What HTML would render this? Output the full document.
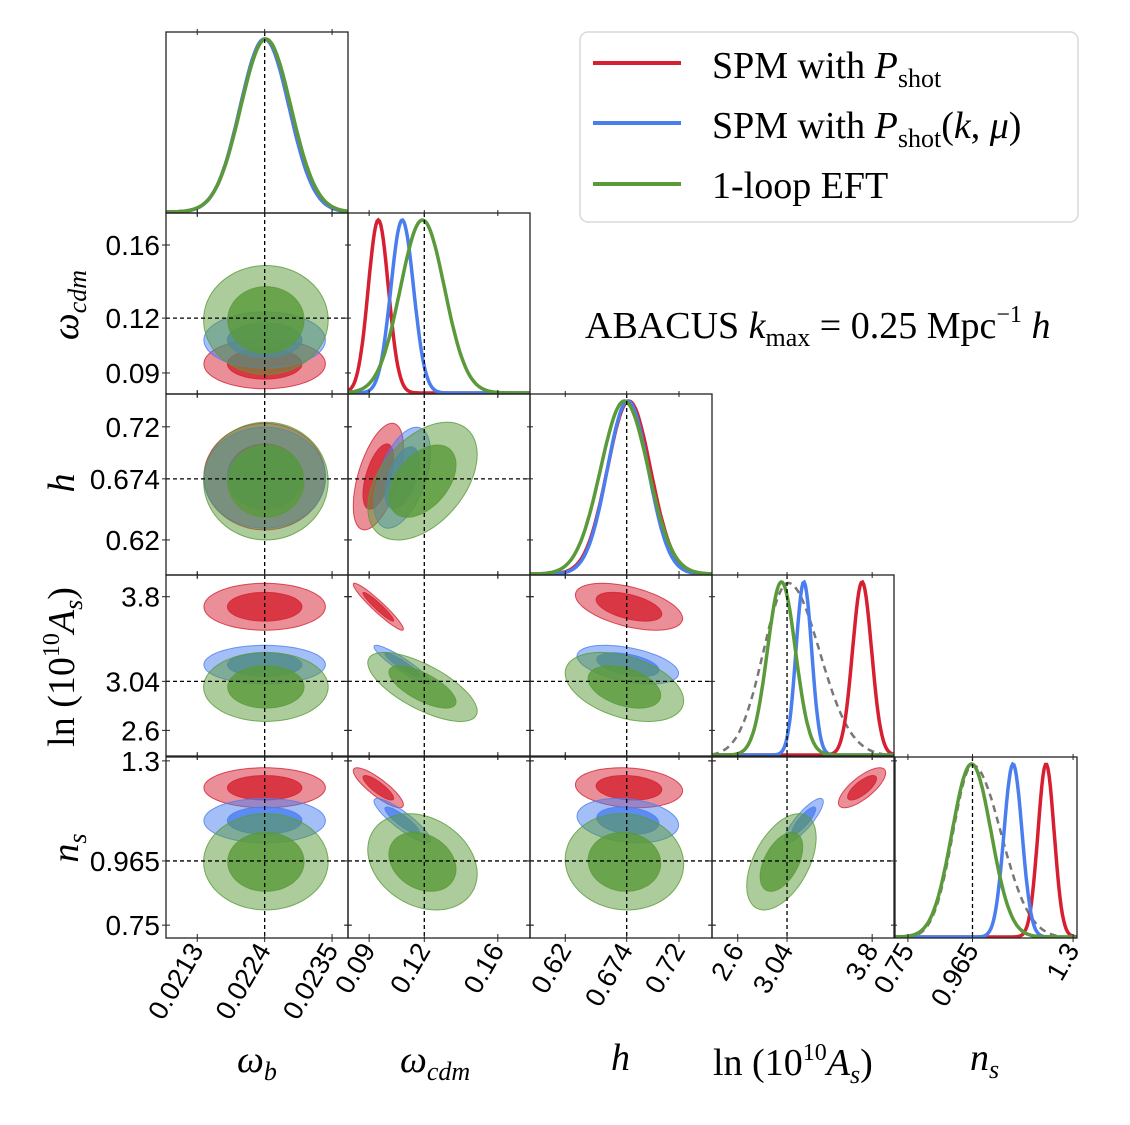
<!DOCTYPE html>
<html><head><meta charset="utf-8"><style>
body{margin:0;background:#fff}
svg text{font-family:"Liberation Sans",sans-serif}
.serif{font-family:"Liberation Serif",serif}
</style></head><body>
<svg id="chart" width="1130" height="1120" viewBox="0 0 1130 1120" xmlns="http://www.w3.org/2000/svg">
<rect width="1130" height="1120" fill="#fff"/>
<g id="panels"></g>
<g id="labels"></g>
<g>
<rect x="580" y="32" width="498" height="190" rx="8" fill="#fff" stroke="#d8d8d8" stroke-width="1.5"/>
<line x1="593" y1="63" x2="681" y2="63" stroke="#d62031" stroke-width="4"/>
<line x1="593" y1="123" x2="681" y2="123" stroke="#4a7eef" stroke-width="4"/>
<line x1="593" y1="184" x2="681" y2="184" stroke="#5a9a3a" stroke-width="4"/>
<text class="serif" x="712" y="78" font-size="38">SPM with <tspan font-style="italic">P</tspan><tspan font-size="26" dy="9">shot</tspan></text>
<text class="serif" x="712" y="138" font-size="38">SPM with <tspan font-style="italic">P</tspan><tspan font-size="26" dy="9">shot</tspan><tspan dy="-9">(</tspan><tspan font-style="italic">k</tspan>, <tspan font-style="italic">μ</tspan>)</text>
<text class="serif" x="712" y="198" font-size="38">1-loop EFT</text>
</g>
<text class="serif" x="585" y="338" font-size="38">ABACUS <tspan font-style="italic">k</tspan><tspan font-size="26" dy="8">max</tspan><tspan dy="-8"> = 0.25 Mpc</tspan><tspan font-size="24" dy="-16">−1</tspan><tspan dy="16" font-style="italic"> h</tspan></text>
</svg>
<script>
const paramNames=['omega-b','omega-cdm','h','ln-as','n-s'];
const truths=[0.0224,0.12,0.674,3.04,0.965];
const domLo=[0.02079,0.0785,0.589,2.37,0.707];
const domHi=[0.02376,0.1775,0.749,3.995,1.313];
const redMean=[0.0224,0.095,0.676,3.71,1.21];
const redSig=[0.0004,0.0055,0.019,0.085,0.027];
const blueMean=[0.0224,0.108,0.675,3.19,1.10];
const blueSig=[0.0004,0.0062,0.018,0.07,0.03];
const greenMean=[0.02242,0.119,0.672,2.99,0.962];
const greenSig=[0.00041,0.012,0.021,0.125,0.065];
const pairI=[0,0,0,0,1,1,1,2,2,3];
const pairJ=[1,2,3,4,2,3,4,3,4,4];
const redCorr=[0,0,0,0,0.55,-0.95,-0.85,-0.5,-0.15,0.75];
const blueCorr=[0,0,0,0,0.5,-0.92,-0.88,-0.45,-0.2,0.85];
const greenCorr=[0,0,0,0,0.45,-0.7,-0.25,-0.4,-0.05,0.5];
const priorParam=[3,4];
const priorMean=[3.05,0.965];
const priorSigL=[0.22,0.065];
const priorSigR=[0.28,0.095];
const tickVals=[[0.0213,0.0224,0.0235],[0.09,0.12,0.16],[0.62,0.674,0.72],[2.6,3.04,3.8],[0.75,0.965,1.3]];
const tickLabels=[['0.0213','0.0224','0.0235'],['0.09','0.12','0.16'],['0.62','0.674','0.72'],['2.6','3.04','3.8'],['0.75','0.965','1.3']];

const NS='http://www.w3.org/2000/svg';
const colX=[166,348,530,712,895], rowY=[32,213,394,575,757], W=182, H=181;
const models=[
 {name:'spm-pshot',color:'#d62031',mean:redMean,sig:redSig,corr:redCorr},
 {name:'spm-pshot-kmu',color:'#4a7eef',mean:blueMean,sig:blueSig,corr:blueCorr},
 {name:'eft',color:'#5a9a3a',mean:greenMean,sig:greenSig,corr:greenCorr}];
function sx(i,v){return colX[i]+(v-domLo[i])/(domHi[i]-domLo[i])*W;}
function sy(j,v){return rowY[j]+H-(v-domLo[j])/(domHi[j]-domLo[j])*H;}
function mk(tag,attrs,parent){const e=document.createElementNS(NS,tag);for(const k in attrs)e.setAttribute(k,attrs[k]);parent.appendChild(e);return e;}
const G=document.getElementById('panels');
const defs=mk('defs',{},G);
for(let r=0;r<5;r++)for(let c=0;c<=r;c++){
 const cp=mk('clipPath',{id:'cp'+r+'_'+c},defs);
 mk('rect',{x:colX[c],y:rowY[r],width:W,height:H},cp);
}
// 2D panels
for(let p=0;p<pairI.length;p++){
 const i=pairI[p], j=pairJ[p];
 const g=mk('g',{'clip-path':'url(#cp'+j+'_'+i+')'},G);
 
 
 models.forEach(m=>{
  [2.48,1.52].forEach((k,idx)=>{
   const rho=m.corr[p]; let d='';
   for(let t=0;t<=72;t++){
    const a=t/72*2*Math.PI;
    const vx=m.mean[i]+k*m.sig[i]*Math.cos(a);
    const vy=m.mean[j]+k*m.sig[j]*(rho*Math.cos(a)+Math.sqrt(1-rho*rho)*Math.sin(a));
    d+=(t?'L':'M')+sx(i,vx).toFixed(1)+','+sy(j,vy).toFixed(1);
   }
   const e=mk('path',{d:d+'Z',fill:m.color,'fill-opacity':idx?0.8:0.5,stroke:m.color,'stroke-width':1,'stroke-opacity':0.8},g);
   
   
  });
 });
 mk('line',{x1:sx(i,truths[i]),y1:rowY[j],x2:sx(i,truths[i]),y2:rowY[j]+H,stroke:'#000','stroke-width':1.3,'stroke-dasharray':'4,3'},g);
 mk('line',{x1:colX[i],y1:sy(j,truths[j]),x2:colX[i]+W,y2:sy(j,truths[j]),stroke:'#000','stroke-width':1.3,'stroke-dasharray':'4,3'},g);
}
// 1D panels
function gauss(v,m,sl,sr){const s=v<m?sl:sr;return Math.exp(-0.5*((v-m)/s)**2);}
for(let i=0;i<5;i++){
 const g=mk('g',{'clip-path':'url(#cp'+i+'_'+i+')'},G);
 
 
 const base=rowY[i]+H, amp=H-8;
 const pi=priorParam.indexOf(i);
 if(pi>=0){
  let d='';
  for(let t=0;t<=120;t++){const v=domLo[i]+(domHi[i]-domLo[i])*t/120;
   d+=(t?'L':'M')+sx(i,v).toFixed(1)+','+(base-amp*gauss(v,priorMean[pi],priorSigL[pi],priorSigR[pi])).toFixed(1);}
  const e=mk('path',{d:d,fill:'none',stroke:'#777','stroke-width':2.5,'stroke-dasharray':'7,5'},g);
  
  
 }
 models.forEach(m=>{
  let d='';
  for(let t=0;t<=150;t++){const v=domLo[i]+(domHi[i]-domLo[i])*t/150;
   d+=(t?'L':'M')+sx(i,v).toFixed(1)+','+(base-1-amp*gauss(v,m.mean[i],m.sig[i],m.sig[i])).toFixed(1);}
  const e=mk('path',{d:d,fill:'none',stroke:m.color,'stroke-width':3.5},g);
  
  
 });
 mk('line',{x1:sx(i,truths[i]),y1:rowY[i],x2:sx(i,truths[i]),y2:base,stroke:'#000','stroke-width':1.3,'stroke-dasharray':'4,3'},g);
}
// frames & ticks
for(let r=0;r<5;r++)for(let c=0;c<=r;c++){
 const f=mk('rect',{x:colX[c],y:rowY[r],width:W,height:H,fill:'none',stroke:'#222','stroke-width':1.3},G);
 
 
 tickVals[c].forEach(v=>{const x=sx(c,v);
  mk('line',{x1:x,y1:rowY[r]+H-4,x2:x,y2:rowY[r]+H+4,stroke:'#222','stroke-width':1},G);
  mk('line',{x1:x,y1:rowY[r]-3,x2:x,y2:rowY[r]+3,stroke:'#222','stroke-width':1},G);});
 if(r!==c)tickVals[r].forEach(v=>{const y=sy(r,v);
  mk('line',{x1:colX[c]-4,y1:y,x2:colX[c]+4,y2:y,stroke:'#222','stroke-width':1},G);
  mk('line',{x1:colX[c]+W-3,y1:y,x2:colX[c]+W+3,y2:y,stroke:'#222','stroke-width':1},G);});
}
const L=document.getElementById('labels');
for(let c=0;c<5;c++)tickVals[c].forEach((v,k)=>{
 const x=sx(c,v)+7, y=950;
 const t=mk('text',{x:x,y:y,'font-size':27,'text-anchor':'end',transform:'rotate(-60 '+x+' '+y+')'},L);
 t.textContent=tickLabels[c][k];
 
 
});
for(let r=1;r<5;r++)tickVals[r].forEach((v,k)=>{
 const t=mk('text',{x:160,y:sy(r,v)+10,'font-size':28,'text-anchor':'end'},L);
 t.textContent=tickLabels[r][k];
 
 
});
</script>
<svg width="0" height="0" style="position:absolute"></svg>
<script>
(function(){
const s=document.getElementById('chart');
const NS='http://www.w3.org/2000/svg';
const add=(html)=>{const g=document.createElementNS(NS,'g');g.innerHTML=html;s.appendChild(g);};
add(`
<text class="serif" x="237" y="1072" font-size="38" font-style="italic">ω<tspan font-size="26" dy="8">b</tspan></text>
<text class="serif" x="400" y="1072" font-size="38" font-style="italic">ω<tspan font-size="26" dy="8">cdm</tspan></text>
<text class="serif" x="611" y="1070" font-size="38" font-style="italic">h</text>
<text class="serif" x="713" y="1075" font-size="38">ln (10<tspan font-size="24" dy="-15">10</tspan><tspan dy="15" font-style="italic">A</tspan><tspan font-size="26" dy="8" font-style="italic">s</tspan><tspan dy="-8">)</tspan></text>
<text class="serif" x="970" y="1070" font-size="38" font-style="italic">n<tspan font-size="26" dy="8">s</tspan></text>
<text class="serif" transform="translate(78 305) rotate(-90)" text-anchor="middle" font-size="38" font-style="italic">ω<tspan font-size="26" dy="8">cdm</tspan></text>
<text class="serif" transform="translate(74 483) rotate(-90)" text-anchor="middle" font-size="38" font-style="italic">h</text>
<text class="serif" transform="translate(74 667) rotate(-90)" text-anchor="middle" font-size="38">ln (10<tspan font-size="24" dy="-15">10</tspan><tspan dy="15" font-style="italic">A</tspan><tspan font-size="26" dy="8" font-style="italic">s</tspan><tspan dy="-8">)</tspan></text>
<text class="serif" transform="translate(78 848) rotate(-90)" text-anchor="middle" font-size="38" font-style="italic">n<tspan font-size="26" dy="8">s</tspan></text>
`);
})();
</script>
</body></html>
